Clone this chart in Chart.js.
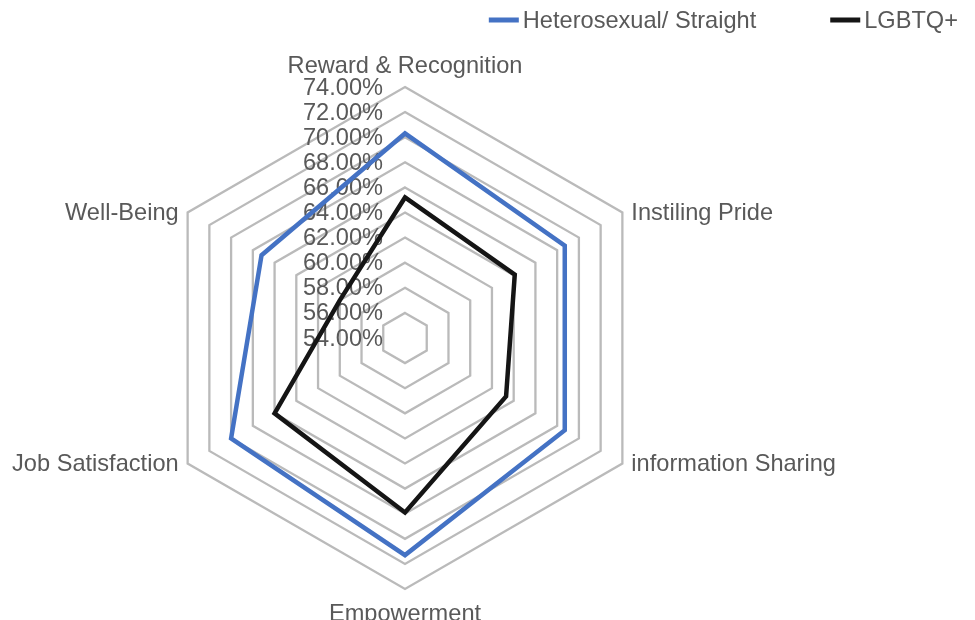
<!DOCTYPE html>
<html>
<head>
<meta charset="utf-8">
<script src="https://cdn.jsdelivr.net/npm/chart.js@4.4.1/dist/chart.umd.min.js"></script>
<style>
  html, body { margin: 0; padding: 0; background: #fff; }
  #wrap { width: 975px; height: 620px; position: relative; }
</style>
</head>
<body>
<div id="wrap"><canvas id="myChart"></canvas></div>
<script>
// categorias (eixos) na ordem horária, começando no topo
const categorias = ["Reward & Recognition", "Instiling Pride", "information Sharing", "Empowerment", "Job Satisfaction", "Well-Being"];
const nomesSeries = ["Heterosexual/ Straight", "LGBTQ+"];
const valoresHetero = [70.3, 68.7, 68.7, 71.3, 70.0, 67.2];
const valoresLgbtq = [65.2, 64.1, 63.3, 67.9, 66.0, 60.0];
const ticks = [54, 56, 58, 60, 62, 64, 66, 68, 70, 72, 74];

const fonte = '23.6px "Liberation Sans", Arial, sans-serif';
const cinzaTexto = "#595959";

// desenha rótulos dos eixos, dos ticks e a legenda (estilo Excel)
const rotulosPlugin = {
    id: "rotulos",
    beforeDatasetsDraw(chart) {
        const ctx = chart.ctx;
        const r = chart.scales.r;
        ctx.save();
        ctx.font = fonte;
        ctx.fillStyle = cinzaTexto;
        ctx.textAlign = "right";
        ctx.textBaseline = "middle";
        ticks.forEach(v => {
            const d = r.getDistanceFromCenterForValue(v);
            ctx.fillText(v.toFixed(2) + "%", r.xCenter - 22, r.yCenter - d + 1);
        });
        ctx.restore();
    },
    afterDraw(chart) {
        const ctx = chart.ctx;
        const r = chart.scales.r;
        ctx.save();
        ctx.font = fonte;
        ctx.fillStyle = cinzaTexto;
        ctx.textBaseline = "middle";
        categorias.forEach((nome, i) => {
            const p = r.getPointPosition(i, r.drawingArea);
            if (Math.abs(p.x - r.xCenter) < 1) {
                ctx.textAlign = "center";
                const dy = p.y < r.yCenter ? -21 : 25;
                ctx.fillText(nome, p.x, p.y + dy);
            } else if (p.x > r.xCenter) {
                ctx.textAlign = "left";
                ctx.fillText(nome, p.x + 9, p.y + 1);
            } else {
                ctx.textAlign = "right";
                ctx.fillText(nome, p.x - 9, p.y + 1);
            }
        });

        // legenda alinhada à direita
        const ds = chart.data.datasets;
        let x = 958;
        const y = 20;
        for (let i = ds.length - 1; i >= 0; i--) {
            const w = ctx.measureText(ds[i].label).width;
            ctx.textAlign = "left";
            ctx.fillStyle = cinzaTexto;
            ctx.fillText(ds[i].label, x - w, y + 1);
            ctx.fillStyle = ds[i].borderColor;
            ctx.fillRect(x - w - 34, y - 2.5, 30, 5);
            x = x - w - 34 - 74;
        }
        ctx.restore();
    }
};

const dadosRadar = {
    labels: categorias,
    datasets: [{
        label: nomesSeries[0],
        data: valoresHetero,
        borderColor: "#4472C4",
        backgroundColor: "#4472C4",
        borderWidth: 4.5,
        fill: false,
        pointRadius: 0,
        pointHoverRadius: 0
    }, {
        label: nomesSeries[1],
        data: valoresLgbtq,
        borderColor: "#151515",
        backgroundColor: "#151515",
        borderWidth: 4.5,
        fill: false,
        pointRadius: 0,
        pointHoverRadius: 0
    }]
};

const configRadar = {
    type: "radar",
    data: dadosRadar,
    options: {
        responsive: false,
        animation: false,
        layout: {
            padding: { top: 87, bottom: 31, left: 0, right: 165 }
        },
        elements: { line: { tension: 0, borderJoinStyle: "miter" } },
        scales: {
            r: {
                min: 54,
                max: 74,
                ticks: { display: false, stepSize: 2 },
                pointLabels: { display: false },
                angleLines: { display: false },
                grid: { color: "#bababa", lineWidth: 2.3, circular: false }
            }
        },
        plugins: {
            legend: { display: false },
            tooltip: { enabled: false }
        }
    },
    plugins: [rotulosPlugin]
};

const canvas = document.getElementById("myChart");
canvas.width = 975;
canvas.height = 620;
new Chart(canvas.getContext("2d"), configRadar);
</script>
</body>
</html>
